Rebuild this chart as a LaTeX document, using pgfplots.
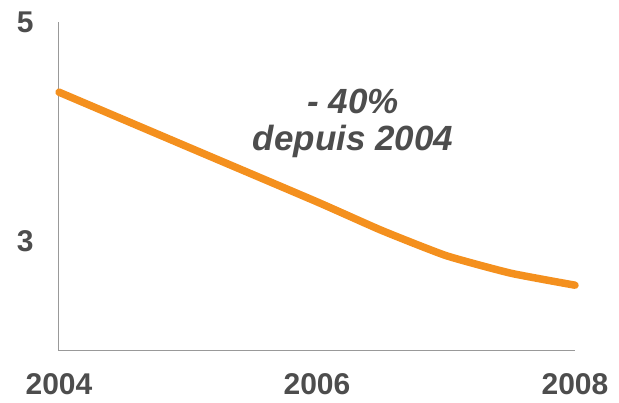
\documentclass[border=0pt]{standalone}
\usepackage{pgfplots}
\pgfplotsset{compat=1.18}
\usepackage{fontspec}
\setmainfont{Liberation Sans}
\definecolor{lineor}{HTML}{F4901E}
\definecolor{txtgray}{HTML}{4D4D4D}
\definecolor{axgray}{HTML}{999999}
\begin{document}
\begin{tikzpicture}
\useasboundingbox (-59pt,-52pt) rectangle (560pt,351pt);
\begin{axis}[
  at={(0,0)}, anchor=south west,
  scale only axis,
  width=516pt, height=329pt,
  xmin=2004, xmax=2008,
  ymin=2, ymax=5,
  axis x line*=bottom,
  axis y line*=left,
  axis line style={-, axgray, line width=1pt},
  xtick={2004,2006,2008},
  xticklabels={2004,2006,2008},
  ytick={3,5},
  yticklabels={3,5},
  major tick length=0pt,
  /pgf/number format/assume math mode=true,
  tick label style={font=\fontsize{30}{30}\selectfont\bfseries, text=txtgray},
  xticklabel style={yshift=-19pt},
  yticklabel style={xshift=-22pt},
  clip=false,
]
\addplot[lineor, line width=7.5pt, line cap=round, line join=round, smooth, tension=0.3] coordinates {
  (2004,4.36) (2005,3.86) (2006,3.36) (2006.5,3.10) (2007,2.87) (2007.5,2.71) (2008,2.60)
};
\node[anchor=base, text=txtgray, font=\fontsize{35}{35}\selectfont\bfseries\itshape] at (axis cs:2006.28,4.17) {- 40\%};
\node[anchor=base, text=txtgray, font=\fontsize{35}{35}\selectfont\bfseries\itshape] at (axis cs:2006.28,3.83) {depuis 2004};
\end{axis}
\end{tikzpicture}
\end{document}
